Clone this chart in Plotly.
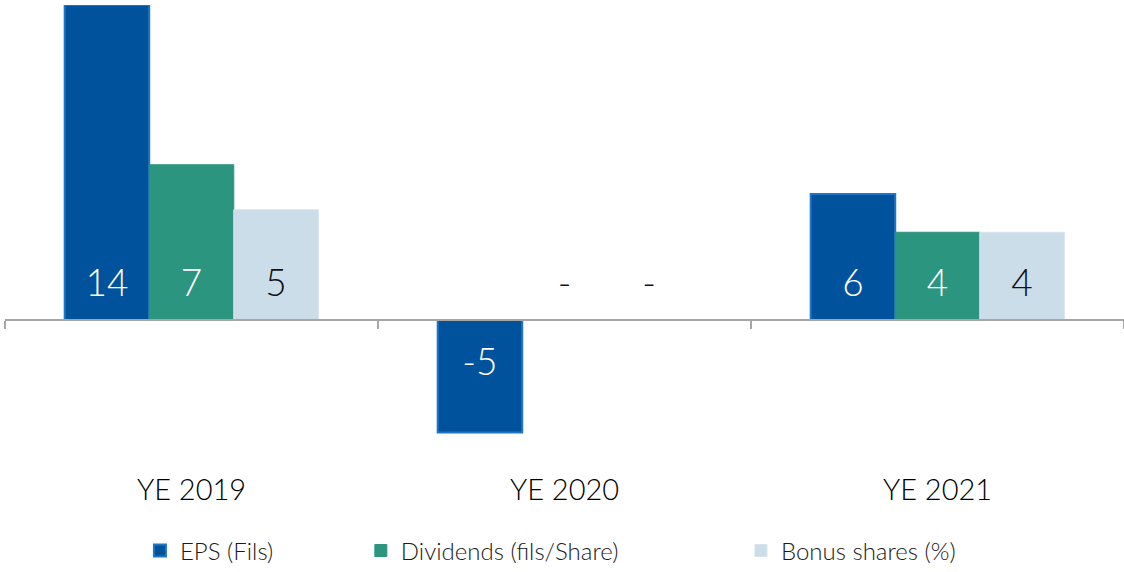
import plotly.graph_objects as go

CATEGORIES = ["YE 2019", "YE 2020", "YE 2021"]
SERIES = ["EPS (Fils)", "Dividends (fils/Share)", "Bonus shares (%)"]
EPS = [14.0, -5.0, 5.6]
DIVIDENDS = [6.9, 0.0, 3.9]
BONUS = [4.9, 0.0, 3.9]

FILLS = ["#00529C", "#2C957F", "#CBDDE9"]
LINES = ["#1F76C6", "#2C957F", "#D6E4EE"]
TEXT_COLORS = ["#FFFFFF", "#FFFFFF", "#111111"]

FONT = "Lato, sans-serif"
BARGAP = 0.32
Y_MIN, Y_MAX = -6.667, 14.0
LABEL_UP, LABEL_DOWN = 1.5, -2.03

xs = list(range(len(CATEGORIES)))
all_vals = [EPS, DIVIDENDS, BONUS]
n = len(all_vals)
bw = (1 - BARGAP) / n

fig = go.Figure()
legend_ids = ["legend", "legend2", "legend3"]
for k, (name, vals) in enumerate(zip(SERIES, all_vals)):
    fig.add_trace(go.Bar(
        x=xs, y=vals, name=name,
        marker=dict(color=FILLS[k], line=dict(color=LINES[k], width=2 if k == 0 else 1)),
        legend=legend_ids[k],
    ))
for k, vals in enumerate(all_vals):
    lx = [i - (1 - BARGAP) / 2 + (k + 0.5) * bw for i in xs]
    ly = [LABEL_DOWN if v < 0 else LABEL_UP for v in vals]
    txt = [f"{v:.0f}" if v != 0 else "-" for v in vals]
    cols = [TEXT_COLORS[k] if v != 0 else "#111111" for v in vals]
    fig.add_trace(go.Scatter(
        x=lx, y=ly, mode="text", text=txt, showlegend=False,
        textfont=dict(family=FONT, size=37, color=cols, weight=300),
        cliponaxis=False, hoverinfo="skip",
    ))

zero_pos = (0 - Y_MIN) / (Y_MAX - Y_MIN)

legend_common = dict(orientation="h", y=-0.174, xanchor="left", yanchor="middle",
                     font=dict(size=24, color="#1a1a1a", family=FONT, weight=300),
                     bgcolor="rgba(0,0,0,0)")

fig.update_layout(
    width=1124, height=572,
    margin=dict(l=5, r=0, t=5, b=102, autoexpand=False),
    paper_bgcolor="white", plot_bgcolor="white",
    barmode="group", bargap=BARGAP, bargroupgap=0,
    font=dict(family=FONT, color="#1a1a1a"),
    xaxis=dict(range=[-0.5, 2.5], tickvals=xs, ticktext=CATEGORIES,
               showgrid=False, zeroline=False, showline=False, ticks="",
               tickfont=dict(size=29, color="#000000", family=FONT, weight=300),
               ticklabelstandoff=0),
    xaxis2=dict(overlaying="x", anchor="free", position=zero_pos, side="bottom",
                range=[-0.5, 2.5], tickvals=[-0.5, 0.5, 1.5, 2.5],
                ticks="outside", ticklen=8, tickwidth=2, tickcolor="#A6A6A6",
                showline=True, linecolor="#A6A6A6", linewidth=2,
                showticklabels=False, showgrid=False, zeroline=False),
    yaxis=dict(range=[Y_MIN, Y_MAX], showgrid=False, zeroline=False,
               showticklabels=False, showline=False),
    legend=dict(x=0.1206, **legend_common),
    legend2=dict(x=0.318, **legend_common),
    legend3=dict(x=0.6577, **legend_common),
)
fig.add_trace(go.Scatter(x=[-0.5, 2.5], y=[0, 0], xaxis="x2", mode="lines",
                         line=dict(width=0), showlegend=False, hoverinfo="skip"))

fig.write_html("out.html")
